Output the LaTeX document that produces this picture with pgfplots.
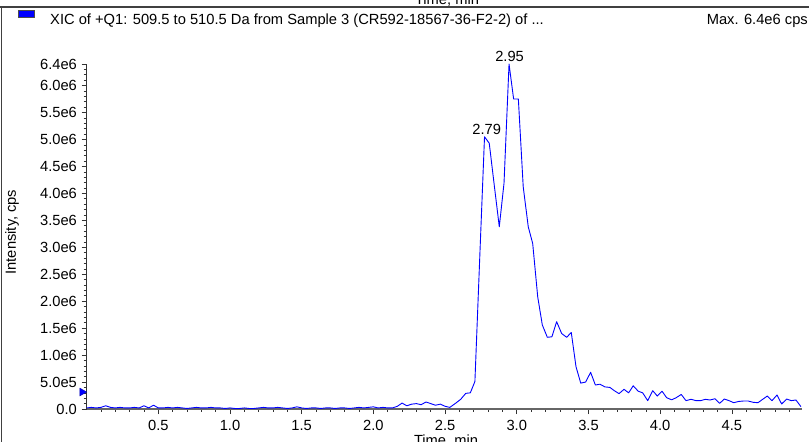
\documentclass[border=0pt]{standalone}
\usepackage{pgfplots}
\pgfplotsset{compat=1.18}
\usepackage{fontspec}
\setmainfont{Liberation Sans}
\newcommand{\ff}{\fontsize{14.7}{17}\selectfont}
\begin{document}
\begin{tikzpicture}[x=1pt,y=1pt,font=\ff]
\useasboundingbox (0,0) rectangle (809,442);
\clip (0,0) rectangle (809,442);
\fill[white] (0,0) rectangle (809,442);
% frame lines
\draw[black!75, line width=1.3pt] (0,435) -- (809,435);
\draw[black!75, line width=1.3pt] (1.5,0) -- (1.5,435);
\node[anchor=base, inner sep=0pt] at (447,437) {Time, min};
% header
\filldraw[fill=blue, draw=black!70, line width=0.5pt] (18,425) rectangle (34,432);
\node[anchor=base west, inner sep=0pt] at (50,417.7) {XIC of +Q1: 509.5 to 510.5 Da from Sample 3 (CR592-18567-36-F2-2) of ...};
\node[anchor=base east, inner sep=0pt] at (808,417.7) {Max. 6.4e6 cps};
% axis labels
\node[rotate=90, anchor=center, inner sep=0pt] at (12,210) {Intensity, cps};
\node[anchor=base, inner sep=0pt] at (446,-3) {Time, min};
\begin{axis}[
  at={(86.6pt,33pt)}, anchor=south west,
  scale only axis, width=715.1pt, height=345pt,
  xmin=0, xmax=4.987, ymin=0, ymax=6.4,
  axis x line=bottom, axis y line=left,
  x axis line style={-, draw=black!60, line width=1.6pt},
  y axis line style={-, draw=black!80, line width=0.8pt},
  tick align=outside,
  major tick length=5pt, minor tick length=3pt,
  every tick/.style={black!80, line width=0.6pt},
  xtick={0.5,1.0,1.5,2.0,2.5,3.0,3.5,4.0,4.5},
  xticklabels={0.5,1.0,1.5,2.0,2.5,3.0,3.5,4.0,4.5},
  minor xtick={0.1,0.2,0.3,0.4,0.6,0.7,0.8,0.9,1.1,1.2,1.3,1.4,1.6,1.7,1.8,1.9,2.1,2.2,2.3,2.4,2.6,2.7,2.8,2.9,3.1,3.2,3.3,3.4,3.6,3.7,3.8,3.9,4.1,4.2,4.3,4.4,4.6,4.7,4.8,4.9},
  ytick={0,0.5,1.0,1.5,2.0,2.5,3.0,3.5,4.0,4.5,5.0,5.5,6.0,6.4},
  yticklabels={0.0,5.0e5,1.0e6,1.5e6,2.0e6,2.5e6,3.0e6,3.5e6,4.0e6,4.5e6,5.0e6,5.5e6,6.0e6,6.4e6},
  minor ytick={0.1,0.2,0.3,0.4,0.6,0.7,0.8,0.9,1.1,1.2,1.3,1.4,1.6,1.7,1.8,1.9,2.1,2.2,2.3,2.4,2.6,2.7,2.8,2.9,3.1,3.2,3.3,3.4,3.6,3.7,3.8,3.9,4.1,4.2,4.3,4.4,4.6,4.7,4.8,4.9,5.1,5.2,5.3,5.4,5.6,5.7,5.8,5.9,6.1,6.2,6.3},
  xticklabel style={font=\ff, anchor=north, inner sep=0pt, yshift=-6.5pt},
  yticklabel style={font=\ff, anchor=east, inner sep=0pt, xshift=-4.5pt},
  clip=false,
]
\addplot[blue, line width=0.9pt, line join=round] coordinates {
(0.000,0.02)(0.033,0.03)(0.067,0.02)(0.100,0.03)(0.133,0.06)(0.167,0.03)(0.200,0.02)(0.233,0.03)(0.267,0.02)(0.300,0.02)
(0.333,0.03)(0.367,0.02)(0.400,0.06)(0.433,0.02)(0.467,0.07)(0.500,0.02)(0.533,0.02)(0.567,0.03)(0.600,0.02)(0.633,0.03)
(0.667,0.02)(0.700,0.01)(0.733,0.02)(0.767,0.03)(0.800,0.02)(0.833,0.02)(0.867,0.03)(0.900,0.02)(0.933,0.02)(0.967,0.01)
(1.000,0.02)(1.033,0.01)(1.067,0.01)(1.100,0.02)(1.133,0.01)(1.167,0.01)(1.200,0.02)(1.233,0.03)(1.267,0.02)(1.300,0.02)
(1.333,0.03)(1.367,0.02)(1.400,0.01)(1.433,0.02)(1.467,0.04)(1.500,0.02)(1.533,0.01)(1.567,0.02)(1.600,0.02)(1.633,0.01)
(1.667,0.02)(1.700,0.02)(1.733,0.01)(1.767,0.02)(1.800,0.02)(1.833,0.01)(1.867,0.02)(1.900,0.03)(1.933,0.02)(1.967,0.03)
(2.000,0.04)(2.033,0.02)(2.067,0.03)(2.100,0.02)(2.133,0.02)(2.167,0.05)(2.200,0.11)(2.233,0.06)(2.267,0.09)(2.300,0.10)
(2.333,0.08)(2.367,0.13)(2.400,0.10)(2.433,0.07)(2.467,0.09)(2.500,0.05)(2.533,0.03)
(2.575,0.11)(2.609,0.18)(2.644,0.29)(2.676,0.30)(2.708,0.51)(2.741,2.76)(2.775,5.05)(2.808,4.93)(2.843,4.15)(2.878,3.38)
(2.911,4.19)(2.946,6.40)(2.978,5.75)(3.011,5.75)(3.045,4.12)(3.080,3.38)(3.111,3.07)(3.146,2.08)(3.178,1.56)(3.213,1.33)
(3.245,1.34)(3.278,1.62)(3.313,1.40)(3.348,1.33)(3.380,1.42)(3.413,0.785)(3.446,0.48)(3.480,0.50)(3.515,0.68)
(3.548,0.445)(3.580,0.46)(3.615,0.41)(3.650,0.40)(3.680,0.34)(3.713,0.285)(3.748,0.365)(3.780,0.30)(3.812,0.43)(3.847,0.33)
(3.878,0.30)(3.913,0.155)(3.948,0.34)(3.980,0.24)(4.013,0.33)(4.045,0.21)(4.080,0.17)(4.112,0.21)(4.147,0.27)(4.180,0.155)
(4.215,0.18)(4.250,0.155)(4.283,0.155)(4.315,0.18)(4.347,0.167)(4.382,0.19)(4.415,0.105)(4.447,0.185)(4.480,0.155)(4.513,0.117)
(4.547,0.14)(4.580,0.148)(4.614,0.148)(4.649,0.124)(4.682,0.117)(4.715,0.18)(4.747,0.24)(4.780,0.155)(4.815,0.26)(4.847,0.093)
(4.882,0.185)(4.914,0.155)(4.947,0.167)(4.982,0.043)
};
\addplot[only marks, mark=triangle*, mark size=4.5pt, mark options={xshift=-4.5pt, rotate=-90, fill=blue, draw=blue!70!black}] coordinates {(0,0.315)};
\node[anchor=base, font=\ff, inner sep=0pt] at (axis cs:2.79,5.05) [yshift=2.5pt] {2.79};
\node[anchor=base, font=\ff, inner sep=0pt] at (axis cs:2.95,6.40) [yshift=2.5pt] {2.95};
\end{axis}
\end{tikzpicture}
\end{document}
